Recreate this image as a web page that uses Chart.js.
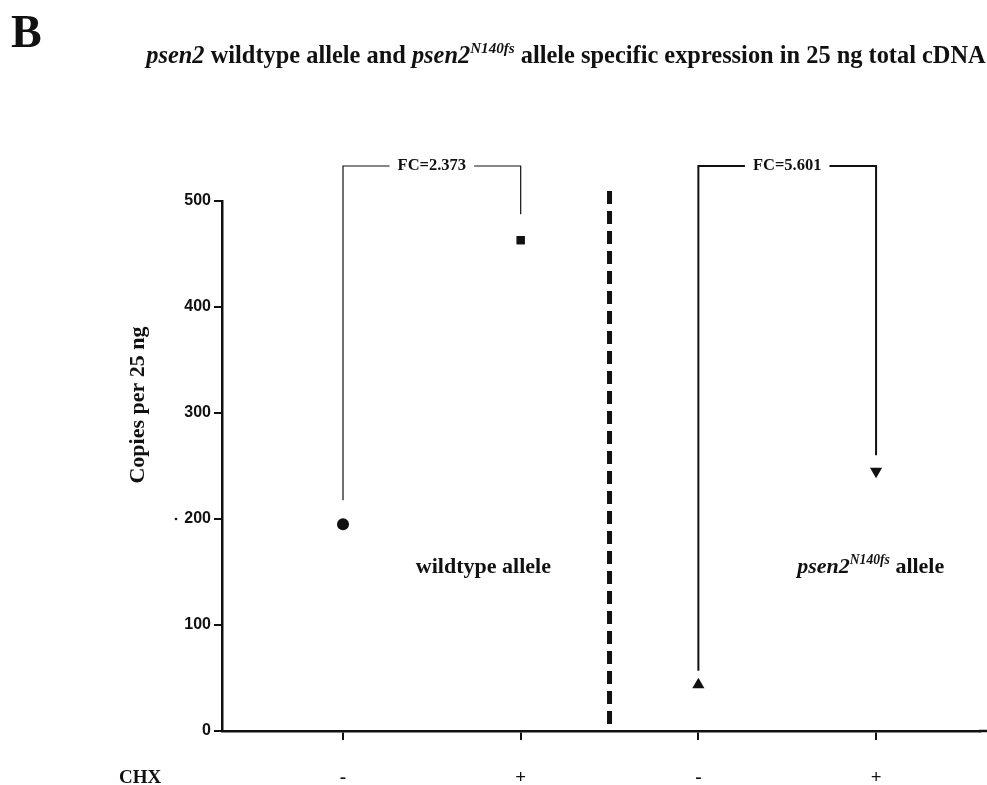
<!DOCTYPE html>
<html lang="en">
<head>
  <meta charset="UTF-8">
  <title>psen2 allele specific expression</title>
  <script src="https://cdn.jsdelivr.net/npm/chart.js"></script>
  <style>
    html, body {
      margin: 0;
      padding: 0;
      background: #fff;
      overflow: hidden;
    }
    canvas {
      display: block;
    }
  </style>
</head>
<body>
  <canvas id="expressionChart" width="987" height="785"></canvas>
  <script>
    // Chart data
    const groupPositions = [0, 1, 2, 3];
    const chxLabels = ['-', '+', '-', '+'];
    const copiesPer25ng = [195, 463, 43.7, 245];
    const yTicks = [0, 100, 200, 300, 400, 500];
    const markerStyles = ['circle', 'rect', 'triangle', 'triangle'];
    const markerRotation = [0, 0, 0, 180];
    const foldChanges = ['FC=2.373', 'FC=5.601'];

    const serif = '"Liberation Serif", "Times New Roman", serif';
    const sans = '"Liberation Sans", Arial, sans-serif';

    // draws a run of text pieces; each piece may be italic or superscript
    function drawRich(ctx, parts, x, y, size, align) {
      const fontFor = p => (p.italic ? 'italic ' : '') + 'bold ' + (p.sup ? size * 0.62 : size) + 'px ' + serif;
      const widths = parts.map(p => {
        ctx.font = fontFor(p);
        return ctx.measureText(p.text).width;
      });
      const total = widths.reduce((a, b) => a + b, 0);
      let cx = align === 'center' ? x - total / 2 : x;
      ctx.textAlign = 'left';
      ctx.textBaseline = 'alphabetic';
      parts.forEach((p, i) => {
        ctx.font = fontFor(p);
        ctx.fillText(p.text, cx, p.sup ? y - size * 0.42 : y);
        cx += widths[i];
      });
      return total;
    }

    const annotations = {
      id: 'annotations',
      afterDraw(chart) {
        const ctx = chart.ctx;
        const xs = chart.scales.x;
        const ys = chart.scales.y;
        const area = chart.chartArea;
        ctx.save();
        ctx.fillStyle = '#111';
        ctx.strokeStyle = '#111';

        // run the x axis line out to the canvas edge
        if (area.right < chart.width) {
          ctx.lineWidth = 2.5;
          ctx.beginPath();
          ctx.moveTo(area.right - 1, area.bottom);
          ctx.lineTo(chart.width, area.bottom);
          ctx.stroke();
        }

        // panel letter
        ctx.font = 'bold 46px ' + serif;
        ctx.textAlign = 'left';
        ctx.textBaseline = 'alphabetic';
        ctx.fillText('B', 11, 47);

        // title
        drawRich(ctx, [
          { text: 'psen2', italic: true },
          { text: ' wildtype allele and ' },
          { text: 'psen2', italic: true },
          { text: 'N140fs', italic: true, sup: true },
          { text: ' allele specific expression in 25 ng total cDNA' }
        ], 566, 63, 24.4, 'center');

        // y axis title
        ctx.save();
        ctx.translate(138, 405);
        ctx.rotate(-Math.PI / 2);
        ctx.font = 'bold 22px ' + serif;
        ctx.textAlign = 'center';
        ctx.textBaseline = 'middle';
        ctx.fillText('Copies per 25 ng', 0, 0);
        ctx.restore();

        // stray dot next to the 200 tick
        ctx.beginPath();
        ctx.arc(176, ys.getPixelForValue(200), 1.3, 0, Math.PI * 2);
        ctx.fill();

        // CHX row label
        ctx.font = 'bold 19px ' + serif;
        ctx.textAlign = 'left';
        ctx.textBaseline = 'middle';
        ctx.fillText('CHX', 119, 778);

        // dashed divider between the two alleles
        const xd = xs.getPixelForValue(1.5);
        ctx.save();
        ctx.lineWidth = 5;
        ctx.setLineDash([13, 7]);
        ctx.beginPath();
        ctx.moveTo(xd, area.top - 10);
        ctx.lineTo(xd, area.bottom);
        ctx.stroke();
        ctx.restore();

        // group labels
        ctx.font = 'bold 22px ' + serif;
        ctx.textAlign = 'center';
        ctx.textBaseline = 'alphabetic';
        ctx.fillText('wildtype allele', xs.getPixelForValue(0.79), 573);
        drawRich(ctx, [
          { text: 'psen2', italic: true },
          { text: 'N140fs', italic: true, sup: true },
          { text: ' allele' }
        ], xs.getPixelForValue(2.97), 573, 22, 'center');

        // fold change brackets
        const topY = area.top - 35;
        const brackets = [
          { a: 0, b: 1, gapA: 24, gapB: 26, lw: 1.2 },
          { a: 2, b: 3, gapA: 14, gapB: 16, lw: 2 }
        ];
        brackets.forEach((br, i) => {
          const x1 = xs.getPixelForValue(groupPositions[br.a]);
          const x2 = xs.getPixelForValue(groupPositions[br.b]);
          const y1 = ys.getPixelForValue(copiesPer25ng[br.a]) - br.gapA;
          const y2 = ys.getPixelForValue(copiesPer25ng[br.b]) - br.gapB;
          const mid = (x1 + x2) / 2;
          ctx.font = 'bold 16.5px ' + serif;
          const half = ctx.measureText(foldChanges[i]).width / 2 + 8;
          ctx.lineWidth = br.lw;
          ctx.beginPath();
          ctx.moveTo(x1, y1);
          ctx.lineTo(x1, topY);
          ctx.lineTo(mid - half, topY);
          ctx.moveTo(mid + half, topY);
          ctx.lineTo(x2, topY);
          ctx.lineTo(x2, y2);
          ctx.stroke();
          ctx.textAlign = 'center';
          ctx.textBaseline = 'middle';
          ctx.fillText(foldChanges[i], mid, topY);
        });
        ctx.restore();
      }
    };

    const ctx = document.getElementById('expressionChart').getContext('2d');
    new Chart(ctx, {
      type: 'scatter',
      data: {
        datasets: [{
          data: groupPositions.map((x, i) => ({ x: x, y: copiesPer25ng[i] })),
          pointStyle: markerStyles,
          rotation: markerRotation,
          pointRadius: [6, 6, 7, 7],
          backgroundColor: '#111',
          borderColor: '#111',
          borderWidth: 0
        }]
      },
      options: {
        responsive: false,
        animation: false,
        events: [],
        clip: false,
        layout: { padding: { top: 201, right: 0, left: 0, bottom: 0 } },
        plugins: {
          legend: { display: false },
          tooltip: { enabled: false }
        },
        scales: {
          x: {
            type: 'linear',
            min: -0.681,
            max: 3.585,
            afterBuildTicks(axis) {
              axis.ticks = groupPositions.map(v => ({ value: v }));
            },
            afterFit(axis) {
              axis.height = 54;
              axis.paddingLeft = 0;
              axis.paddingRight = 0;
            },
            border: { display: true, color: '#111', width: 2.5 },
            grid: { drawOnChartArea: false, drawTicks: true, tickLength: 9, color: '#111', lineWidth: 2 },
            ticks: {
              padding: 27,
              color: '#111',
              font: { family: serif, size: 19, weight: 'bold' },
              callback: (v) => chxLabels[groupPositions.indexOf(v)]
            }
          },
          y: {
            min: 0,
            max: 500,
            afterBuildTicks(axis) {
              axis.ticks = yTicks.map(v => ({ value: v }));
            },
            afterFit(axis) {
              axis.width = 222;
              axis.paddingTop = 0;
              axis.paddingBottom = 0;
            },
            border: { display: true, color: '#111', width: 2.5 },
            grid: { drawOnChartArea: false, drawTicks: true, tickLength: 8, color: '#111', lineWidth: 2 },
            ticks: {
              padding: 3,
              color: '#111',
              font: { family: sans, size: 16, weight: 'bold' }
            }
          }
        }
      },
      plugins: [annotations]
    });
  </script>
</body>
</html>
